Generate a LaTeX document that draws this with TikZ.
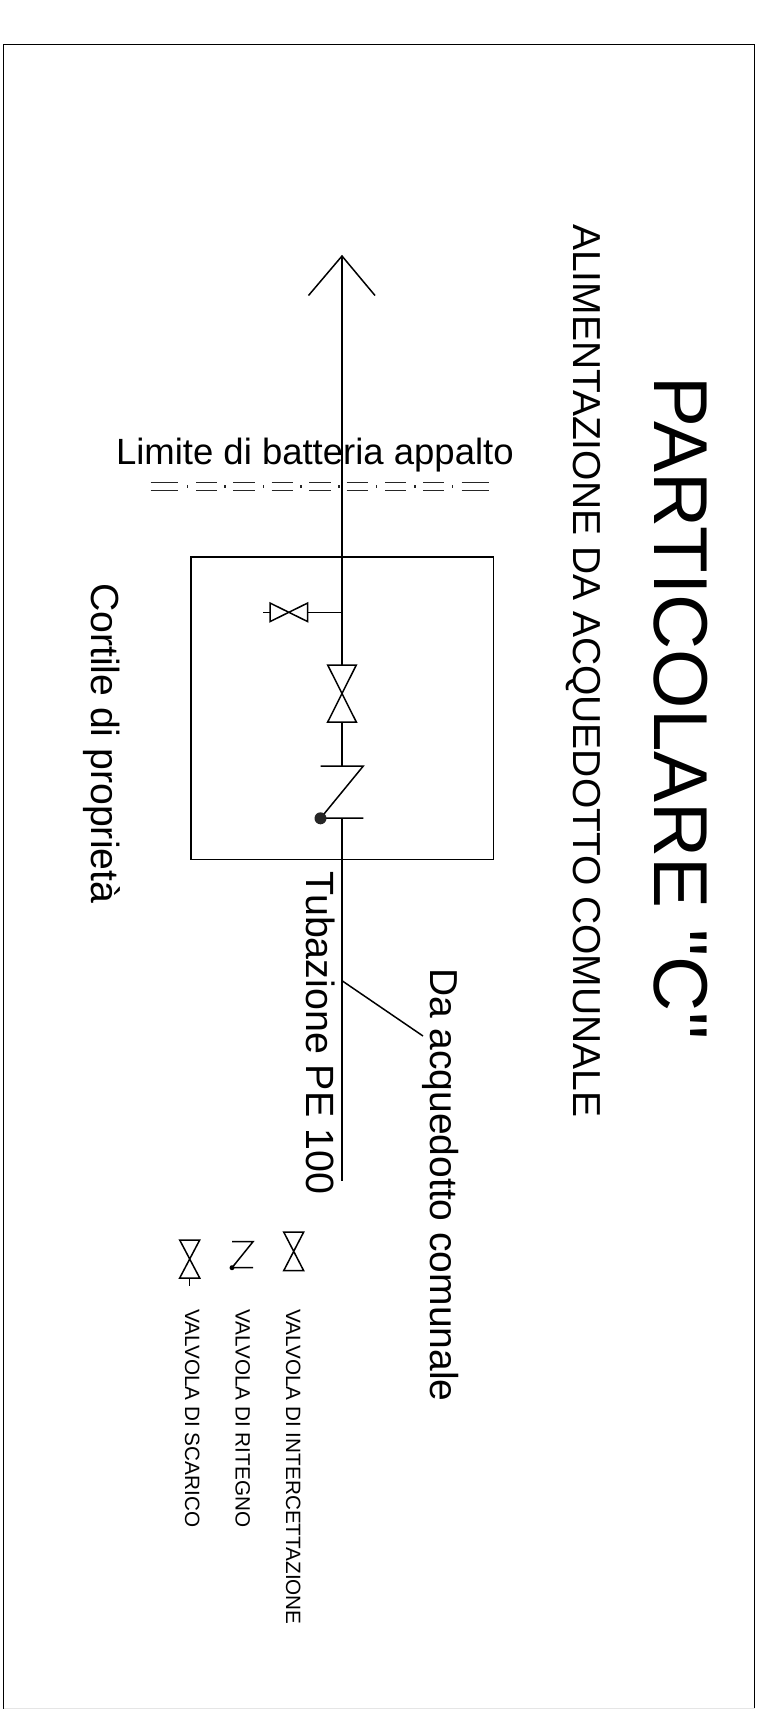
\documentclass[tikz,border=0pt]{standalone}
\usepackage{fontspec}
\newfontfamily\arial{Liberation Sans}
\newcommand{\fs}[1]{\fontsize{#1}{#1}\selectfont}
\tikzset{
  every node/.style={font=\arial},
  wire/.style={draw=black,line width=1.5pt},
  thin wire/.style={draw=black,line width=1.1pt},
  vtext/.style={rotate=-90,anchor=base west,inner sep=0pt,outer sep=0pt},
  htext/.style={anchor=base west,inner sep=0pt,outer sep=0pt},
  pt/.style={coordinate}
}
\begin{document}
\begin{tikzpicture}[x=1pt,y=-1pt]
\useasboundingbox (0,0) rectangle (764,1709);
\fill[white] (0,0) rectangle (764,1709);
% frame
\draw[thin wire] (3.5,1709) -- (3.5,44.5) -- (754.5,44.5) -- (754.5,1709);
\draw[draw=black!10,line width=1pt] (3.5,1708.5) -- (754.5,1708.5);
% titles
\node[vtext] (title) at (654,376.5) {\fs{76.4}PARTICOLARE "C"};
\node[vtext] (sub) at (573,224) {\fs{39}ALIMENTAZIONE DA ACQUEDOTTO COMUNALE};
\node[htext] (limite) at (116,464) {\fs{36.5}Limite di batteria appalto};
\node[vtext] (cortile) at (91,583) {\fs{39.2}Cortile di proprietà};
\node[vtext] (tub) at (306,871.5) {\fs{39.4}Tubazione PE 100};
\node[vtext] (da) at (430,968) {\fs{39}Da acquedotto comunale};
% box
\node[draw=black,line width=1.5pt,minimum width=302.3pt,minimum height=302.7pt,inner sep=0pt] (box) at (342.2,708.3) {};
% main pipe
\node[pt] (tip) at (342,256) {};
\node[pt] (armL) at (308.5,295.5) {};
\node[pt] (armR) at (375,295.5) {};
\node[pt] (pipeend) at (342,1181) {};
\node[pt] (j) at (342,612.3) {};
\node[pt] (vt) at (342,665) {};
\node[pt] (vb) at (342,722) {};
\node[pt] (ct) at (342,766) {};
\node[pt] (cb) at (342,818) {};
\node[pt] (lead) at (342,980.7) {};
\node[pt] (leadend) at (423,1036) {};
\draw[wire] (tip) -- (j) -- (vt) (vb) -- (ct) (cb) -- (pipeend);
\draw[wire] (armL) -- (tip) -- (armR);
\draw[wire] (lead) -- (leadend);
% main valve
\draw[wire] (327.7,665) -- (356.3,665) -- (327.7,722) -- (356.3,722) -- cycle;
% drain valve
\node[pt] (dr) at (307.7,612.3) {};
\node[pt] (drl) at (270,612.3) {};
\node[pt] (stub) at (263,612.3) {};
\draw[wire] (j) -- (dr);
\draw[wire] (drl) -- (stub);
\draw[wire] (307.7,603) -- (307.7,621.6) -- (270,603) -- (270,621.6) -- cycle;
% check valve
\draw[wire] (320.7,766) -- (363.3,766) -- (320.7,818) -- (363.3,818);
\fill[black!85] (320.5,818.3) circle (6);
% limit line
\foreach \a/\b in {150.7/178.3,196/216.7,233.3/255,271.7/292.7,309.3/330.7,346.7/368.3,385/406,423.3/444,461.7/489}{
  \draw[black!85,line width=1.1pt] (\a,482.4) -- (\b,482.4) (\a,490.6) -- (\b,490.6);}
\foreach \a in {187.3,225,263.3,301,339,376.7,415,452.7}{
  \draw[black!85,line width=1.1pt] (\a,485) -- (\a,488);}
% legend
\draw[wire] (283.7,1232) -- (303.7,1232) -- (283.7,1270.7) -- (303.7,1270.7) -- cycle;
\draw[wire] (232,1241.7) -- (253,1241.7) -- (232,1267.7) -- (253,1267.7);
\fill[black] (232,1267.7) circle (2.5);
\draw[wire] (179.7,1240) -- (199.7,1240) -- (179.7,1278) -- (199.7,1278) -- cycle;
\node[pt] (lb) at (189.7,1278) {};
\node[pt] (ls) at (189.7,1286) {};
\draw[wire] (lb) -- (ls);
\node[vtext] (l1) at (286,1309.5) {\fs{20.7}VALVOLA DI INTERCETTAZIONE};
\node[vtext] (l2) at (235.7,1309.5) {\fs{20.7}VALVOLA DI RITEGNO};
\node[vtext] (l3) at (185,1309.5) {\fs{20.7}VALVOLA DI SCARICO};
\end{tikzpicture}
\end{document}
